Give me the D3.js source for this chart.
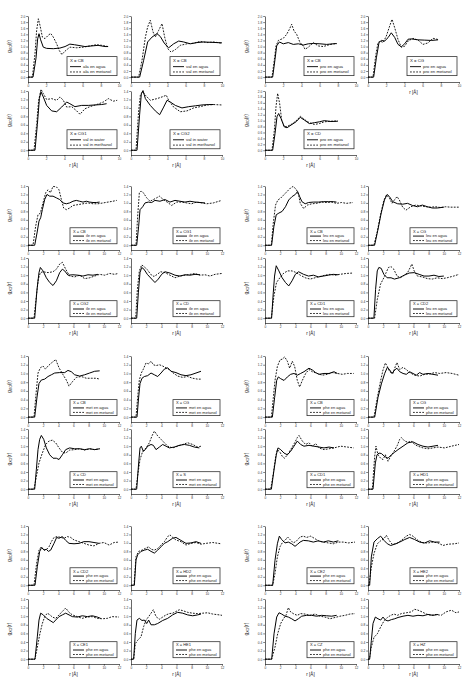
<!DOCTYPE html>
<html>
<head>
<meta charset="utf-8">
<script src="https://cdn.jsdelivr.net/npm/d3@7"></script>
<style>
  body { margin: 0; background: #fff; }
  svg { display: block; font-family: Arial, "Liberation Sans", sans-serif; }
</style>
</head>
<body>
<svg id="chart" width="466" height="684"></svg>
<script>
// tick labels
const xTicks10 = [0, 2, 4, 6, 8, 10];
const xTicks12 = [0, 2, 4, 6, 8, 10, 12];
const yTicks14 = [0, 0.2, 0.4, 0.6, 0.8, 1.0, 1.2, 1.4];
const yTicks20 = [0, 0.2, 0.4, 0.6, 0.8, 1.0, 1.2, 1.4, 1.6, 1.8, 2.0];
const solventES = ['en agua', 'en metanol'];
const solventEN = ['in water', 'in methanol'];

// g_XO(r), [r, g]
const alaCB_agua = [[0,0],[0.55,0],[0.88,0.62],[1.06,1.25],[1.21,1.42],[1.39,1.22],[1.68,0.98],[2.05,0.94],[2.78,0.93],[3.5,0.95],[4.07,1.0],[4.6,1.08],[5.1,1.06],[5.5,1.04],[6.26,1.0],[7.0,1.02],[7.7,1.04],[8.46,1.0],[8.8,1.0]];
const alaCB_metanol = [[0,0],[0.48,0],[0.77,0.77],[0.95,1.53],[1.14,1.91],[1.32,1.69],[1.58,1.31],[1.87,1.26],[2.23,1.37],[2.49,1.43],[2.78,1.31],[3.15,1.09],[3.44,0.87],[3.72,0.74],[4.07,0.85],[4.6,0.98],[5.35,0.96],[6.08,0.98],[6.8,1.02],[7.5,1.06],[8.1,1.04],[8.8,1.0]];
const valCB_agua = [[0,0],[0.95,0],[1.39,0.55],[1.83,1.15],[2.31,1.31],[2.86,1.42],[3.22,1.33],[3.7,1.09],[4.14,0.96],[4.69,1.09],[5.24,1.18],[5.79,1.15],[6.52,1.09],[7.25,1.13],[8.0,1.15],[8.7,1.14],[9.45,1.13],[10,1.12]];
const valCB_metanol = [[0,0],[0.84,0],[1.21,0.55],[1.58,1.31],[1.83,1.64],[2.12,1.86],[2.42,1.48],[2.67,1.31],[3.04,1.53],[3.41,1.75],[3.7,1.31],[4.03,0.93],[4.4,0.82],[4.87,0.9],[5.42,1.04],[6.15,1.09],[6.89,1.11],[7.6,1.17],[8.35,1.13],[9.08,1.15],[10,1.11]];
const valCG1_agua = [[0,0],[0.77,0],[1.03,0.61],[1.25,1.22],[1.43,1.38],[1.68,1.26],[2.05,1.06],[2.6,0.93],[3.15,0.91],[3.7,1.02],[4.25,1.14],[4.6,1.1],[5.16,1.03],[5.9,1.06],[6.63,1.06],[7.36,1.07],[8.1,1.08],[8.64,1.1]];
const valCG1_metanol = [[0,0],[0.66,0],[0.95,0.61],[1.17,1.18],[1.43,1.44],[1.68,1.34],[2.05,1.2],[2.6,1.22],[3.15,1.18],[3.52,1.26],[3.88,1.18],[4.25,1.02],[4.8,1.03],[5.35,0.93],[5.71,0.85],[6.26,0.98],[6.81,1.03],[7.55,1.08],[8.28,1.14],[8.83,1.22],[9.38,1.16],[9.8,1.18]];
const valCG2_agua = [[0,0],[0.66,0],[0.95,0.85],[1.14,1.34],[1.32,1.41],[1.58,1.22],[2.12,1.06],[2.67,0.93],[3.15,0.84],[3.59,1.02],[3.96,1.18],[4.32,1.14],[4.87,1.06],[5.6,1.0],[6.34,1.03],[7.07,1.05],[7.8,1.07],[8.53,1.08],[9.08,1.08]];
const valCG2_metanol = [[0,0],[0.55,0],[0.84,0.93],[1.03,1.3],[1.28,1.38],[1.58,1.3],[2.12,1.18],[2.86,1.22],[3.41,1.26],[3.88,1.3],[4.14,1.18],[4.69,1.02],[5.42,0.91],[6.15,0.93],[6.89,1.0],[7.6,1.03],[8.35,1.07],[9.08,1.08],[10,1.07]];
const proCB_agua = [[0,0],[0.84,0],[1.1,0.58],[1.28,1.02],[1.58,1.15],[2.01,1.09],[2.56,1.13],[3.11,1.07],[3.66,1.09],[4.21,1.05],[4.76,1.09],[5.31,1.1],[6.04,1.09],[6.78,1.07],[7.5,1.09],[7.88,1.1]];
const proCB_metanol = [[0,0],[0.77,0],[1.03,0.58],[1.21,1.02],[1.47,1.2],[2.01,1.27],[2.38,1.4],[2.67,1.56],[2.93,1.73],[3.19,1.51],[3.48,1.4],[3.85,1.13],[4.21,1.02],[4.4,0.91],[4.76,0.98],[5.31,1.13],[5.86,1.02],[6.41,1.0],[6.96,1.05],[7.5,1.09],[7.88,1.09]];
const proCG_agua = [[0,0],[0.62,0],[0.92,0.63],[1.21,1.13],[1.47,1.2],[1.83,1.18],[2.2,1.29],[2.56,1.45],[2.93,1.3],[3.3,1.07],[3.66,0.99],[4.03,1.09],[4.4,1.24],[4.76,1.25],[5.5,1.22],[6.23,1.21],[6.96,1.2],[7.7,1.22]];
const proCG_metanol = [[0,0],[0.55,0],[0.84,0.69],[1.1,1.13],[1.36,1.18],[1.65,1.13],[2.01,1.34],[2.38,1.67],[2.64,1.89],[2.93,1.62],[3.3,1.23],[3.66,0.98],[4.03,1.01],[4.4,1.18],[4.95,1.27],[5.5,1.21],[6.04,1.07],[6.6,1.12],[7.14,1.27],[7.7,1.23]];
const proCD_agua = [[0,0],[0.84,0],[1.1,0.56],[1.32,1.13],[1.5,1.24],[1.76,1.07],[2.12,0.79],[2.42,0.76],[2.86,0.85],[3.41,0.96],[3.88,1.11],[4.32,1.02],[4.87,0.9],[5.42,0.93],[5.97,0.96],[6.52,1.0],[7.25,0.97],[8.0,0.98]];
const proCD_metanol = [[0,0],[0.77,0],[1.03,0.68],[1.21,1.47],[1.39,1.92],[1.61,1.58],[1.83,1.02],[2.12,0.79],[2.49,0.81],[3.04,0.9],[3.59,1.04],[3.88,1.15],[4.32,1.04],[4.87,0.93],[5.42,0.87],[5.97,0.9],[6.52,0.96],[7.25,0.98],[8.0,0.99]];
const ileCB_agua = [[0,0],[0.88,0],[1.19,0.29],[1.45,0.57],[1.67,0.65],[1.89,0.84],[2.2,1.08],[2.5,1.2],[2.86,1.16],[3.3,1.16],[3.74,1.12],[4.18,1.08],[4.62,1.0],[5.05,0.98],[5.49,1.0],[5.93,1.04],[6.37,1.06],[6.81,1.04],[7.25,1.02],[7.69,1.04],[8.13,1.02],[8.57,1.01],[9.0,1.01],[9.45,1.02]];
const ileCB_metanol = [[0,0],[0.66,0],[1.01,0.45],[1.32,0.72],[1.63,0.76],[1.98,1.0],[2.33,1.24],[2.64,1.31],[2.95,1.24],[3.3,1.39],[3.74,1.38],[4.09,1.31],[4.4,1.08],[4.7,0.88],[5.05,0.84],[5.49,0.88],[5.93,0.94],[6.6,0.96],[7.25,0.98],[7.9,1.0],[8.57,0.98],[9.23,0.98],[9.9,1.0],[10.55,1.02],[11.2,1.04],[11.7,1.06]];
const ileCG1_agua = [[0,0],[0.75,0],[1.01,0.45],[1.19,0.84],[1.54,0.91],[1.85,1.0],[2.29,1.02],[2.73,1.01],[3.16,1.06],[3.82,1.04],[4.48,1.08],[5.14,1.02],[5.8,1.06],[6.46,1.04],[7.12,1.02],[7.78,1.04],[8.44,1.02],[9.1,1.01],[9.76,1.0]];
const ileCG1_metanol = [[0,0],[0.66,0],[0.88,0.69],[1.1,1.24],[1.32,1.28],[1.63,1.24],[2.07,1.12],[2.51,1.04],[2.95,1.08],[3.38,1.12],[3.74,1.16],[4.26,1.08],[4.92,1.0],[5.36,0.94],[6.02,1.02],[6.68,1.02],[7.34,1.0],[8.0,0.98],[8.66,1.02],[9.32,1.0],[9.98,0.98],[10.86,1.0],[11.96,1.06]];
const ileCG2_agua = [[0,0],[0.88,0],[1.19,0.67],[1.45,1.06],[1.63,1.18],[1.98,1.1],[2.42,0.94],[2.86,0.83],[3.3,0.76],[3.74,0.87],[4.18,1.06],[4.53,1.14],[4.84,1.1],[5.27,1.0],[5.93,1.01],[6.59,1.0],[7.25,0.98],[7.91,1.01],[8.57,1.0],[9.23,1.02]];
const ileCG2_metanol = [[0,0],[0.79,0],[1.1,0.51],[1.36,0.91],[1.63,1.06],[1.98,1.08],[2.64,1.06],[3.3,1.08],[3.74,1.14],[4.18,1.26],[4.53,1.3],[4.97,1.14],[5.49,0.98],[6.15,0.96],[6.81,1.0],[7.47,0.92],[8.13,0.94],[8.79,0.98],[9.45,1.02],[10.1,1.0],[10.77,1.04],[11.43,1.02],[11.87,1.04]];
const ileCD_agua = [[0,0],[0.75,0],[0.97,0.59],[1.19,1.06],[1.41,1.18],[1.71,1.14],[2.15,1.02],[2.73,0.91],[3.16,0.83],[3.6,0.91],[4.04,1.02],[4.48,1.08],[5.14,1.05],[5.8,1.0],[6.46,0.98],[7.12,1.01],[7.78,1.0],[8.44,1.02],[9.1,1.01]];
const ileCD_metanol = [[0,0],[0.62,0],[0.84,0.67],[1.1,1.1],[1.41,1.24],[1.71,1.2],[2.15,1.13],[2.59,1.02],[3.03,0.97],[3.47,1.02],[3.91,1.08],[4.48,1.06],[5.14,1.0],[5.8,0.94],[6.46,0.98],[7.12,1.0],[7.78,1.02],[8.44,1.04],[9.1,1.0],[9.76,1.01],[10.42,0.98],[11.08,1.02],[11.96,1.04]];
const leuCB_agua = [[0,0],[0.87,0],[1.17,0.44],[1.48,0.72],[1.83,0.76],[2.26,0.8],[2.7,0.91],[3.13,1.07],[3.57,1.15],[4.0,1.2],[4.3,1.27],[4.57,1.15],[4.87,1.03],[5.3,0.98],[5.74,1.01],[6.39,1.02],[7.04,1.02],[7.7,1.03],[8.35,1.03],[9.0,1.03],[9.43,1.02]];
const leuCB_metanol = [[0,0],[0.83,0],[1.09,0.52],[1.39,0.95],[1.7,1.07],[2.04,1.11],[2.48,1.19],[2.91,1.27],[3.35,1.35],[3.7,1.39],[4.13,1.32],[4.43,1.19],[4.65,0.99],[5.09,0.87],[5.6,0.95],[6.17,0.98],[6.83,0.99],[7.48,1.02],[8.13,1.01],[8.78,1.02],[9.43,0.99],[10.09,1.01],[10.74,0.99],[11.6,1.01]];
const leuCG_agua = [[0,0],[0.87,0],[1.3,0.36],[1.74,0.76],[2.17,1.07],[2.52,1.2],[2.83,1.15],[3.26,1.03],[3.91,0.98],[4.57,0.97],[5.22,0.99],[5.87,0.94],[6.52,0.91],[7.17,0.95],[7.83,0.91],[8.48,0.88],[9.13,0.88],[10.0,0.9]];
const leuCG_metanol = [[0,0],[0.78,0],[1.22,0.32],[1.65,0.72],[2.09,1.06],[2.43,1.19],[2.83,1.11],[3.17,0.99],[3.48,1.07],[3.83,1.15],[4.13,1.07],[4.57,0.9],[5.0,0.83],[5.65,0.91],[6.3,0.95],[6.96,0.93],[7.61,0.91],[8.26,0.9],[8.91,0.91],[9.57,0.89],[10.22,0.91],[10.87,0.9],[11.96,0.9]];
const leuCD1_agua = [[0,0],[0.87,0],[1.09,0.59],[1.26,0.98],[1.48,1.22],[1.83,1.1],[2.26,0.94],[2.7,0.83],[3.13,0.75],[3.57,0.87],[4.0,1.02],[4.43,1.08],[5.09,1.02],[5.74,0.98],[6.39,1.0],[7.04,0.96],[7.7,0.98],[8.35,1.0],[9.0,1.02],[9.65,1.01]];
const leuCD1_metanol = [[0,0],[0.83,0],[1.17,0.51],[1.52,0.83],[1.96,0.94],[2.48,1.05],[3.0,1.1],[3.57,1.1],[4.13,1.06],[4.65,1.0],[5.3,0.94],[5.96,0.91],[6.6,0.94],[7.26,0.97],[7.9,1.0],[8.57,1.02],[9.22,1.0],[9.87,1.02],[10.7,1.04],[11.6,1.05]];
const leuCD2_agua = [[0,0],[0.78,0],[1.0,0.67],[1.22,1.1],[1.43,1.18],[1.74,1.16],[2.09,1.02],[2.52,0.94],[3.04,0.94],[3.48,0.91],[4.13,0.94],[4.78,1.0],[5.43,1.05],[6.09,1.06],[6.74,1.02],[7.39,0.98],[8.04,0.98],[8.7,1.0],[9.35,0.97],[10.0,0.98]];
const leuCD2_metanol = [[0,0],[0.87,0],[1.22,0.43],[1.65,0.79],[2.09,0.94],[2.39,1.06],[2.7,1.18],[3.04,1.2],[3.39,1.14],[3.83,0.98],[4.26,0.94],[4.78,1.0],[5.22,1.06],[5.57,1.18],[5.78,1.26],[6.09,1.1],[6.52,0.98],[7.17,0.96],[7.83,0.92],[8.48,0.91],[9.13,0.94],[9.78,0.92],[10.43,0.94],[11.3,0.98],[12,1.02]];
const metCB_agua = [[0,0],[0.88,0],[1.19,0.46],[1.45,0.77],[1.76,0.85],[2.2,0.87],[2.64,0.93],[3.08,0.97],[3.52,1.01],[4.18,1.02],[4.84,1.02],[5.27,1.07],[5.71,1.04],[6.15,0.97],[6.81,0.94],[7.47,0.97],[8.13,1.01],[8.79,1.05],[9.45,1.06]];
const metCB_metanol = [[0,0],[0.79,0],[1.1,0.61],[1.32,1.01],[1.63,1.13],[1.98,1.17],[2.29,1.1],[2.64,1.17],[3.08,1.24],[3.38,1.28],[3.65,1.32],[4.09,1.13],[4.62,0.97],[5.05,0.85],[5.41,0.71],[5.85,0.81],[6.37,0.91],[7.03,0.93],[7.69,0.89],[8.35,0.89],[9.01,0.89],[9.45,0.87]];
const metCG_agua = [[0,0],[0.79,0],[1.01,0.46],[1.19,0.77],[1.45,0.89],[1.76,0.93],[2.2,0.95],[2.64,1.01],[3.08,0.97],[3.52,0.93],[3.96,1.01],[4.4,1.1],[4.84,1.13],[5.27,1.05],[5.93,1.02],[6.59,0.97],[7.25,0.95],[7.91,0.97],[8.57,1.01],[9.23,1.05]];
const metCG_metanol = [[0,0],[0.66,0],[0.92,0.54],[1.1,0.85],[1.36,1.01],[1.63,1.1],[1.98,1.24],[2.33,1.22],[2.64,1.28],[2.95,1.2],[3.3,1.18],[3.74,1.2],[4.18,1.17],[4.62,1.13],[5.05,1.09],[5.49,1.02],[6.15,0.94],[6.81,0.91],[7.47,0.93],[8.13,0.89],[8.79,0.87],[9.23,0.87]];
const metCD_agua = [[0,0],[0.88,0],[1.1,0.45],[1.32,0.92],[1.54,1.16],[1.76,1.25],[2.07,1.16],[2.42,0.96],[2.86,0.8],[3.3,0.72],[3.74,0.72],[4.09,0.69],[4.53,0.8],[4.97,0.92],[5.49,0.96],[6.15,0.94],[6.81,0.94],[7.47,0.92],[8.13,0.94],[8.79,0.92],[9.45,0.94]];
const metCD_metanol = [[0,0],[0.79,0],[1.1,0.29],[1.45,0.61],[1.89,0.84],[2.33,1.04],[2.77,1.12],[3.21,1.14],[3.65,1.08],[4.09,0.96],[4.53,0.86],[4.97,0.84],[5.49,0.91],[6.15,0.92],[6.81,0.94],[7.47,0.91],[8.13,0.94],[8.79,0.92],[9.45,0.94]];
const metS_agua = [[0,0],[0.75,0],[1.01,0.61],[1.19,0.96],[1.36,1.0],[1.63,0.88],[1.89,0.92],[2.2,1.0],[2.64,1.04],[2.95,1.02],[3.3,0.92],[3.74,0.98],[4.18,1.04],[4.62,1.0],[5.05,0.96],[5.71,0.98],[6.37,1.02],[7.03,1.04],[7.69,1.02],[8.35,0.98],[9.01,0.96]];
const metS_metanol = [[0,0],[0.66,0],[0.92,0.37],[1.19,0.69],[1.54,0.88],[1.98,0.96],[2.42,1.08],[2.77,1.24],[3.08,1.35],[3.52,1.24],[3.96,1.16],[4.4,1.08],[4.84,1.0],[5.49,0.96],[6.15,1.0],[6.81,1.04],[7.47,1.08],[8.13,1.04],[8.79,0.98],[9.23,1.0]];
const pheCB_agua = [[0,0],[0.97,0],[1.27,0.45],[1.54,0.84],[1.76,0.92],[2.07,0.88],[2.51,0.84],[2.95,0.92],[3.38,0.98],[3.82,1.0],[4.26,0.96],[4.7,1.0],[5.14,1.04],[5.8,1.12],[6.24,1.08],[6.68,1.02],[7.12,0.98],[7.78,1.0],[8.44,1.0],[9.1,1.04],[9.54,1.0]];
const pheCB_metanol = [[0,0],[0.84,0],[1.1,0.45],[1.32,0.84],[1.63,1.16],[1.98,1.31],[2.29,1.33],[2.59,1.38],[2.95,1.28],[3.25,1.12],[3.6,1.28],[3.91,1.16],[4.26,0.84],[4.57,0.69],[4.92,0.84],[5.36,1.0],[5.8,1.09],[6.24,1.04],[6.9,1.0],[7.56,0.96],[8.22,0.98],[8.88,1.02],[9.54,1.0],[10.2,0.98],[10.86,1.0],[11.7,1.0]];
const pheCG_agua = [[0,0],[0.88,0],[1.32,0.45],[1.76,0.76],[2.2,1.0],[2.55,1.14],[2.86,1.08],[3.16,1.0],[3.52,1.08],[3.82,1.12],[4.18,1.04],[4.62,1.0],[5.05,0.98],[5.49,1.04],[5.93,1.0],[6.37,0.96],[6.81,1.02],[7.25,0.98],[7.91,1.0],[8.57,0.98],[9.23,0.96]];
const pheCG_metanol = [[0,0],[0.79,0],[1.23,0.45],[1.67,0.84],[1.98,1.08],[2.29,1.24],[2.55,1.16],[2.86,1.04],[3.3,1.0],[3.6,1.16],[3.82,1.25],[4.18,1.09],[4.62,1.14],[5.05,1.09],[5.49,1.02],[6.15,0.96],[6.81,0.94],[7.47,0.98],[8.13,0.99],[8.79,1.02],[9.45,1.0],[10.3,1.02],[11.1,1.0],[12,0.96]];
const pheCD1_agua = [[0,0],[0.84,0],[1.19,0.45],[1.49,0.8],[1.71,0.96],[2.07,0.92],[2.51,0.84],[2.95,0.8],[3.38,0.88],[3.82,1.0],[4.26,1.12],[4.7,1.04],[5.14,1.0],[5.8,1.02],[6.46,1.0],[7.12,0.98],[7.78,0.96],[8.44,0.98],[9.1,0.96]];
const pheCD1_metanol = [[0,0],[0.75,0],[1.1,0.37],[1.41,0.76],[1.63,0.92],[1.98,0.86],[2.29,0.76],[2.59,0.72],[2.95,0.8],[3.38,0.92],[3.91,1.08],[4.26,1.2],[4.48,1.25],[4.92,1.12],[5.36,1.04],[5.8,1.08],[6.24,1.0],[6.68,1.06],[7.12,0.96],[7.78,0.92],[8.44,0.94],[9.1,0.96],[9.98,1.0],[10.86,0.98],[11.7,0.96]];
const pheHD1_agua = [[0,0],[0.66,0],[0.97,0.61],[1.19,0.8],[1.45,0.84],[1.76,0.83],[2.2,0.76],[2.64,0.72],[3.08,0.8],[3.52,0.86],[3.96,0.92],[4.62,1.0],[5.27,1.08],[5.93,1.1],[6.59,1.04],[7.25,1.0],[7.91,0.98],[8.57,1.0],[9.23,1.02]];
const pheHD1_metanol = [[0,0],[0.57,0],[0.88,0.76],[1.05,1.0],[1.32,0.8],[1.67,0.72],[1.98,0.69],[2.29,0.8],[2.64,0.65],[2.99,0.76],[3.43,0.88],[3.87,1.02],[4.18,1.16],[4.4,1.2],[4.84,1.12],[5.27,1.09],[5.71,1.12],[6.15,1.04],[6.59,1.0],[7.25,0.96],[7.91,0.94],[8.57,0.96],[9.23,0.98],[10.1,0.96],[11.0,1.0],[12,1.04]];
const pheCD2_agua = [[0,0],[0.92,0],[1.23,0.44],[1.54,0.8],[1.8,0.89],[2.11,0.83],[2.42,0.85],[2.68,0.8],[2.99,0.83],[3.43,0.99],[3.78,1.13],[4.09,1.11],[4.53,1.15],[4.97,1.06],[5.41,0.99],[6.07,0.98],[6.73,0.99],[7.38,1.03],[8.04,1.03],[8.7,1.01],[9.36,0.99]];
const pheCD2_metanol = [[0,0],[0.79,0],[1.14,0.52],[1.45,0.83],[1.76,0.91],[2.11,0.83],[2.46,0.85],[2.77,0.91],[3.08,1.03],[3.43,1.13],[3.87,1.15],[4.31,1.13],[4.75,1.11],[5.19,1.15],[5.63,1.13],[6.07,1.07],[6.73,1.03],[7.38,0.99],[8.04,0.95],[8.7,0.93],[9.36,0.99],[10.0,1.01],[10.7,0.95],[11.35,1.01],[12,1.02]];
const pheHD2_agua = [[0,0],[0.44,0],[0.66,0.6],[0.88,0.72],[1.32,0.8],[1.76,0.83],[2.2,0.85],[2.64,0.8],[3.08,0.76],[3.52,0.83],[3.96,0.91],[4.4,0.99],[4.84,1.03],[5.49,1.11],[5.93,1.13],[6.59,1.06],[7.25,0.99],[7.91,1.0],[8.57,1.03],[9.23,0.99]];
const pheHD2_metanol = [[0,0],[0.4,0],[0.66,0.68],[1.01,0.8],[1.45,0.83],[1.89,0.87],[2.33,0.91],[2.64,0.85],[3.08,0.83],[3.52,0.87],[3.96,0.95],[4.4,1.03],[4.84,1.15],[5.14,1.19],[5.49,1.13],[5.93,1.07],[6.59,1.03],[7.25,0.95],[7.91,0.99],[8.57,1.01],[9.23,0.97],[9.89,0.99],[10.77,1.01],[11.87,0.98]];
const pheCE1_agua = [[0,0],[0.92,0],[1.23,0.52],[1.45,0.91],[1.67,1.07],[2.02,1.03],[2.46,0.95],[2.9,0.9],[3.34,0.85],[3.65,0.91],[4.09,0.99],[4.53,1.03],[4.97,1.07],[5.41,1.03],[5.85,0.99],[6.51,0.98],[7.16,1.01],[7.82,0.99],[8.48,1.01],[9.14,0.98],[9.58,0.95]];
const pheCE1_metanol = [[0,0],[0.92,0],[1.23,0.28],[1.58,0.6],[1.89,0.83],[2.2,0.99],[2.55,1.07],[2.9,1.03],[3.21,0.98],[3.65,0.95],[4.09,1.03],[4.53,1.11],[4.97,1.19],[5.41,1.09],[5.85,1.03],[6.51,0.99],[7.16,0.95],[7.82,0.98],[8.48,0.99],[9.14,0.95],[9.8,0.94],[10.46,0.95],[11.1,0.99],[12,0.98]];
const pheHE1_agua = [[0,0],[0.35,0],[0.57,0.6],[0.79,0.91],[1.1,0.95],[1.45,0.9],[1.76,0.91],[2.07,0.83],[2.33,0.91],[2.64,0.8],[3.08,0.8],[3.52,0.83],[4.18,0.9],[4.84,0.95],[5.49,1.03],[6.15,1.09],[6.81,1.07],[7.47,1.03],[8.13,1.01],[8.79,1.03],[9.23,1.05]];
const pheHE1_metanol = [[0,0],[0.35,0],[0.57,0.36],[0.88,0.44],[1.32,0.52],[1.67,0.76],[1.98,0.91],[2.33,0.99],[2.64,1.07],[2.95,1.15],[3.3,0.99],[3.74,0.93],[4.18,0.98],[4.62,1.03],[5.05,1.06],[5.49,1.07],[5.93,1.11],[6.37,1.15],[6.81,1.13],[7.47,1.09],[8.13,1.07],[8.79,1.06],[9.45,1.07],[10.1,1.08],[10.77,1.05],[11.65,1.03],[12,1.02]];
const pheCE2_agua = [[0,0],[1.01,0],[1.32,0.59],[1.63,0.98],[1.89,1.16],[2.2,1.08],[2.64,1.0],[3.08,1.02],[3.52,0.98],[3.96,0.92],[4.31,0.97],[4.62,1.02],[5.05,1.06],[5.71,1.05],[6.37,1.02],[7.03,1.05],[7.69,1.02],[8.35,1.05],[9.01,1.02],[9.67,1.05]];
const pheCE2_metanol = [[0,0],[1.01,0],[1.32,0.28],[1.63,0.67],[1.98,0.91],[2.33,1.02],[2.64,1.06],[2.99,1.14],[3.3,1.08],[3.74,1.0],[4.18,1.05],[4.62,1.14],[5.05,1.16],[5.49,1.13],[6.02,1.16],[6.59,1.1],[7.14,1.04],[7.69,1.02],[8.35,1.0],[9.01,0.98],[9.67,1.02],[10.33,1.02],[10.99,1.0],[11.87,1.02]];
const pheHE2_agua = [[0,0],[0.22,0],[0.44,0.67],[0.79,1.02],[1.23,1.1],[1.67,1.16],[2.11,1.06],[2.55,0.98],[2.99,0.94],[3.52,0.97],[4.18,1.02],[4.84,1.08],[5.49,1.13],[6.15,1.08],[6.81,1.02],[7.47,1.0],[8.13,1.05],[8.79,1.02],[9.45,1.02]];
const pheHE2_metanol = [[0,0],[0.13,0],[0.44,0.43],[0.79,0.75],[1.23,0.98],[1.67,1.05],[2.11,1.1],[2.42,1.18],[2.73,1.08],[3.16,0.97],[3.74,0.98],[4.4,1.06],[5.05,1.16],[5.49,1.2],[5.93,1.16],[6.59,1.06],[7.25,1.0],[7.91,1.0],[8.57,1.02],[9.23,1.0],[9.89,0.94],[10.55,0.97],[11.43,0.98],[12,1.0]];
const pheCZ_agua = [[0,0],[0.88,0],[1.19,0.59],[1.54,0.98],[1.85,1.08],[2.2,1.05],[2.64,1.0],[3.08,0.98],[3.52,0.94],[3.96,0.89],[4.4,0.94],[4.84,1.0],[5.49,1.02],[6.15,1.02],[6.81,1.0],[7.47,1.02],[8.13,1.01],[8.79,1.0],[9.45,1.02]];
const pheCZ_metanol = [[0,0],[0.88,0],[1.32,0.28],[1.67,0.59],[2.07,0.83],[2.42,0.94],[2.77,1.02],[3.08,1.2],[3.38,1.1],[3.82,1.05],[4.26,1.02],[4.7,1.06],[5.27,1.05],[5.93,1.02],[6.59,1.05],[7.25,1.0],[7.91,0.98],[8.57,0.94],[9.23,0.97],[9.89,1.0],[10.55,1.02],[11.2,1.05],[11.87,1.06]];
const pheHZ_agua = [[0,0],[0.22,0],[0.44,0.43],[0.66,0.83],[0.97,0.98],[1.32,0.94],[1.67,0.91],[1.98,0.98],[2.29,0.91],[2.64,0.89],[3.08,0.92],[3.52,0.94],[3.96,0.97],[4.62,1.0],[5.27,1.02],[5.93,1.0],[6.59,1.02],[7.25,1.01],[7.91,1.04],[8.57,1.02],[9.23,1.04]];
const pheHZ_metanol = [[0,0],[0.18,0],[0.44,0.28],[0.79,0.51],[1.23,0.59],[1.67,0.75],[2.11,0.89],[2.55,0.97],[2.99,1.02],[3.43,1.05],[3.87,1.02],[4.4,1.06],[5.05,1.08],[5.71,1.1],[6.15,1.16],[6.59,1.14],[7.12,1.1],[7.69,1.05],[8.35,1.02],[8.99,1.04],[9.64,1.02],[10.3,1.1],[11.0,1.14],[11.6,1.08],[12,1.1]];

// one entry per panel: which residue / site, its two curves and its slot [column, row]
const panels = [
  { res: 'ala', site: 'CB',  agua: alaCB_agua,   metanol: alaCB_metanol,   legend: solventES, xTicks: xTicks10, yTicks: yTicks20, slot: [0, 0] },
  { res: 'val', site: 'CB',  agua: valCB_agua,   metanol: valCB_metanol,   legend: solventES, xTicks: xTicks10, yTicks: yTicks20, slot: [1, 0] },
  { res: 'val', site: 'CG1', agua: valCG1_agua,  metanol: valCG1_metanol,  legend: solventEN, xTicks: xTicks10, yTicks: yTicks14, slot: [0, 1] },
  { res: 'val', site: 'CG2', agua: valCG2_agua,  metanol: valCG2_metanol,  legend: solventEN, xTicks: xTicks10, yTicks: yTicks14, slot: [1, 1] },
  { res: 'pro', site: 'CB',  agua: proCB_agua,   metanol: proCB_metanol,   legend: solventES, xTicks: xTicks10, yTicks: yTicks20, slot: [2, 0] },
  { res: 'pro', site: 'CG',  agua: proCG_agua,   metanol: proCG_metanol,   legend: solventES, xTicks: xTicks10, yTicks: yTicks20, slot: [3, 0] },
  { res: 'pro', site: 'CD',  agua: proCD_agua,   metanol: proCD_metanol,   legend: solventES, xTicks: xTicks10, yTicks: yTicks20, slot: [2, 1] },
  { res: 'ile', site: 'CB',  agua: ileCB_agua,   metanol: ileCB_metanol,   legend: solventES, xTicks: xTicks12, yTicks: yTicks14, slot: [0, 2] },
  { res: 'ile', site: 'CG1', agua: ileCG1_agua,  metanol: ileCG1_metanol,  legend: solventES, xTicks: xTicks12, yTicks: yTicks14, slot: [1, 2] },
  { res: 'ile', site: 'CG2', agua: ileCG2_agua,  metanol: ileCG2_metanol,  legend: solventES, xTicks: xTicks12, yTicks: yTicks14, slot: [0, 3] },
  { res: 'ile', site: 'CD',  agua: ileCD_agua,   metanol: ileCD_metanol,   legend: solventES, xTicks: xTicks12, yTicks: yTicks14, slot: [1, 3] },
  { res: 'leu', site: 'CB',  agua: leuCB_agua,   metanol: leuCB_metanol,   legend: solventES, xTicks: xTicks12, yTicks: yTicks14, slot: [2, 2] },
  { res: 'leu', site: 'CG',  agua: leuCG_agua,   metanol: leuCG_metanol,   legend: solventES, xTicks: xTicks12, yTicks: yTicks14, slot: [3, 2] },
  { res: 'leu', site: 'CD1', agua: leuCD1_agua,  metanol: leuCD1_metanol,  legend: solventES, xTicks: xTicks12, yTicks: yTicks14, slot: [2, 3] },
  { res: 'leu', site: 'CD2', agua: leuCD2_agua,  metanol: leuCD2_metanol,  legend: solventES, xTicks: xTicks12, yTicks: yTicks14, slot: [3, 3] },
  { res: 'met', site: 'CB',  agua: metCB_agua,   metanol: metCB_metanol,   legend: solventES, xTicks: xTicks12, yTicks: yTicks14, slot: [0, 4] },
  { res: 'met', site: 'CG',  agua: metCG_agua,   metanol: metCG_metanol,   legend: solventES, xTicks: xTicks12, yTicks: yTicks14, slot: [1, 4] },
  { res: 'met', site: 'CD',  agua: metCD_agua,   metanol: metCD_metanol,   legend: solventES, xTicks: xTicks12, yTicks: yTicks14, slot: [0, 5] },
  { res: 'met', site: 'S',   agua: metS_agua,    metanol: metS_metanol,    legend: solventES, xTicks: xTicks12, yTicks: yTicks14, slot: [1, 5] },
  { res: 'phe', site: 'CB',  agua: pheCB_agua,   metanol: pheCB_metanol,   legend: solventES, xTicks: xTicks12, yTicks: yTicks14, slot: [2, 4] },
  { res: 'phe', site: 'CG',  agua: pheCG_agua,   metanol: pheCG_metanol,   legend: solventES, xTicks: xTicks12, yTicks: yTicks14, slot: [3, 4] },
  { res: 'phe', site: 'CD1', agua: pheCD1_agua,  metanol: pheCD1_metanol,  legend: solventES, xTicks: xTicks12, yTicks: yTicks14, slot: [2, 5] },
  { res: 'phe', site: 'HD1', agua: pheHD1_agua,  metanol: pheHD1_metanol,  legend: solventES, xTicks: xTicks12, yTicks: yTicks14, slot: [3, 5] },
  { res: 'phe', site: 'CD2', agua: pheCD2_agua,  metanol: pheCD2_metanol,  legend: solventES, xTicks: xTicks12, yTicks: yTicks14, slot: [0, 6] },
  { res: 'phe', site: 'HD2', agua: pheHD2_agua,  metanol: pheHD2_metanol,  legend: solventES, xTicks: xTicks12, yTicks: yTicks14, slot: [1, 6] },
  { res: 'phe', site: 'CE1', agua: pheCE1_agua,  metanol: pheCE1_metanol,  legend: solventES, xTicks: xTicks12, yTicks: yTicks14, slot: [0, 7] },
  { res: 'phe', site: 'HE1', agua: pheHE1_agua,  metanol: pheHE1_metanol,  legend: solventES, xTicks: xTicks12, yTicks: yTicks14, slot: [1, 7] },
  { res: 'phe', site: 'CE2', agua: pheCE2_agua,  metanol: pheCE2_metanol,  legend: solventES, xTicks: xTicks12, yTicks: yTicks14, slot: [2, 6] },
  { res: 'phe', site: 'HE2', agua: pheHE2_agua,  metanol: pheHE2_metanol,  legend: solventES, xTicks: xTicks12, yTicks: yTicks14, slot: [3, 6] },
  { res: 'phe', site: 'CZ',  agua: pheCZ_agua,   metanol: pheCZ_metanol,   legend: solventES, xTicks: xTicks12, yTicks: yTicks14, slot: [2, 7] },
  { res: 'phe', site: 'HZ',  agua: pheHZ_agua,   metanol: pheHZ_metanol,   legend: solventES, xTicks: xTicks12, yTicks: yTicks14, slot: [3, 7] }
];

// page grid
const colX = [28, 131, 265, 368];
const panelW = 91;
const rowTop = [16, 91, 186, 258, 356, 429, 526, 599];
const rowAxis = [82, 155, 250, 323, 422, 494, 590, 664];
const dash = '1.8,1.3';

const svg = d3.select('#chart');

panels.forEach(p => {
  const [c, r] = p.slot;
  const xMax = d3.max(p.xTicks);
  const yMax = d3.max(p.yTicks);
  const x = d3.scaleLinear().domain([0, xMax]).range([colX[c], colX[c] + panelW]);
  const y = d3.scaleLinear().domain([-0.08 * yMax, yMax]).range([rowAxis[r], rowTop[r]]);
  const g = svg.append('g');

  const styleAxis = a => {
    a.attr('font-size', null).attr('font-family', null);
    a.select('.domain').attr('stroke-width', 0.6);
    a.selectAll('.tick line').attr('stroke-width', 0.5);
    a.selectAll('.tick text').attr('font-size', 3.2).attr('fill', '#333');
  };

  g.append('g')
    .attr('transform', `translate(0,${rowAxis[r]})`)
    .call(d3.axisBottom(x).tickValues(p.xTicks).tickSize(1.8).tickSizeOuter(0).tickPadding(1))
    .call(styleAxis);

  g.append('g')
    .attr('transform', `translate(${colX[c]},0)`)
    .call(d3.axisLeft(y).tickValues(p.yTicks).tickFormat(d3.format('.1f')).tickSize(1.8).tickSizeOuter(0).tickPadding(1))
    .call(styleAxis);

  const line = d3.line().x(d => x(d[0])).y(d => y(d[1]));

  g.append('path')
    .attr('d', line(p.agua))
    .attr('fill', 'none')
    .attr('stroke', '#000')
    .attr('stroke-width', 1.0)
    .attr('stroke-linejoin', 'round');

  g.append('path')
    .attr('d', line(p.metanol))
    .attr('fill', 'none')
    .attr('stroke', '#000')
    .attr('stroke-width', 0.9)
    .attr('stroke-dasharray', dash);

  // legend box
  const lw = r < 2 ? 50 : 47;
  const lh = r < 2 ? 19 : 16;
  const lx = colX[c] + panelW - lw - 2;
  const ly = y(0) - lh - 1.5;
  const leg = g.append('g').attr('transform', `translate(${lx},${ly})`);
  leg.append('rect')
    .attr('width', lw).attr('height', lh)
    .attr('fill', '#fff').attr('stroke', '#333').attr('stroke-width', 0.8);
  const fs = r < 2 ? 4.3 : 4;
  const rowY = [lh * 0.3, lh * 0.6, lh * 0.88];
  leg.append('text')
    .attr('x', 3).attr('y', rowY[0]).attr('font-size', fs).attr('fill', '#222')
    .text(`X = ${p.site}`);
  p.legend.forEach((s, i) => {
    const yy = rowY[i + 1] - fs * 0.32;
    leg.append('line')
      .attr('x1', 3).attr('x2', 14).attr('y1', yy).attr('y2', yy)
      .attr('stroke', '#000').attr('stroke-width', i === 1 ? 0.8 : 0.9)
      .attr('stroke-dasharray', i === 1 ? dash : null);
    leg.append('text')
      .attr('x', 16).attr('y', rowY[i + 1]).attr('font-size', fs).attr('fill', '#222')
      .text(`${p.res} ${s}`);
  });

  // y title on the left column of each block
  if (c === 0 || c === 2) {
    const yMid = (rowTop[r] + y(0)) / 2;
    const t = g.append('text')
      .attr('transform', `translate(${colX[c] - 17},${yMid}) rotate(-90)`)
      .attr('text-anchor', 'middle')
      .attr('font-size', 5)
      .attr('fill', '#222');
    t.append('tspan').text('g');
    t.append('tspan').attr('font-size', 3.6).attr('dy', 1.2).text('XO');
    t.append('tspan').attr('dy', -1.2).text('(r)');
  }

  // x title under panels that have nothing below them
  const below = r % 2 === 0 && panels.some(q => q.slot[0] === c && q.slot[1] === r + 1);
  if (!below) {
    g.append('text')
      .attr('x', colX[c] + panelW / 2)
      .attr('y', rowAxis[r] + 11.5)
      .attr('text-anchor', 'middle')
      .attr('font-size', 4.6)
      .attr('fill', '#222')
      .text('r [Å]');
  }
});
</script>
</body>
</html>
